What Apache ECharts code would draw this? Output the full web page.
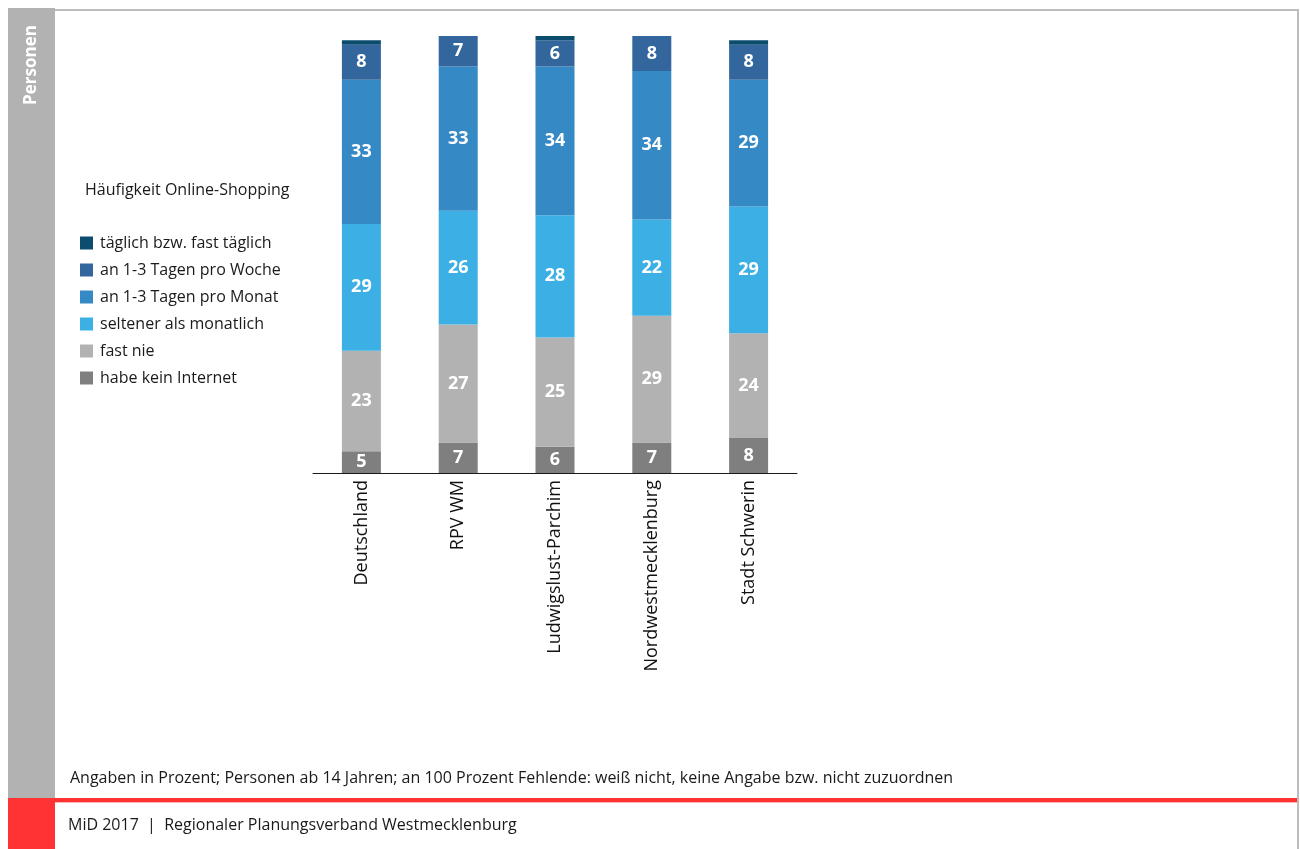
<!DOCTYPE html>
<html>
<head>
<meta charset="utf-8">
<title>Häufigkeit Online-Shopping</title>
<script src="https://cdn.jsdelivr.net/npm/echarts@6/dist/echarts.min.js"></script>
<style>
  html, body { margin: 0; padding: 0; background: #fff; }
  #chart { width: 1300px; height: 849px; }
</style>
</head>
<body>
<div id="chart"></div>
<script>
// Regions shown as columns
const categories = ['Deutschland', 'RPV WM', 'Ludwigslust-Parchim', 'Nordwestmecklenburg', 'Stadt Schwerin'];

// Shares in percent, stacked from the bottom up
const habeKeinInternet = [5, 7, 6, 7, 8];
const fastNie = [23, 27, 25, 29, 24];
const seltenerAlsMonatlich = [29, 26, 28, 22, 29];
const proMonat = [33, 33, 34, 34, 29];
const proWoche = [8, 7, 6, 8, 8];
const taeglich = [1, 1, 1, 1, 1];

const seriesNames = [
  'habe kein Internet',
  'fast nie',
  'seltener als monatlich',
  'an 1-3 Tagen pro Monat',
  'an 1-3 Tagen pro Woche',
  'täglich bzw. fast täglich'
];
const seriesData = [habeKeinInternet, fastNie, seltenerAlsMonatlich, proMonat, proWoche, taeglich];
const seriesColors = ['#7f7f7f', '#b2b2b2', '#3cb0e4', '#3589c4', '#33669c', '#0b4c6f'];
const showLabel = [true, true, true, true, true, false];

const FONT = '"Open Sans", "Noto Sans", sans-serif';

const chart = echarts.init(document.getElementById('chart'), null, { renderer: 'canvas' });

const series = seriesNames.map((name, i) => ({
  name: name,
  type: 'bar',
  stack: 'total',
  barWidth: 39,
  clip: true,
  itemStyle: { color: seriesColors[i] },
  label: {
    show: showLabel[i],
    position: 'inside',
    color: '#ffffff',
    fontFamily: FONT,
    fontWeight: 'bold',
    fontSize: 18
  },
  emphasis: { disabled: true },
  data: seriesData[i]
}));

chart.setOption({
  animation: false,
  backgroundColor: '#ffffff',
  textStyle: { fontFamily: FONT },
  grid: { left: 313, right: 503, top: 36, bottom: 376, containLabel: false },
  xAxis: {
    type: 'category',
    data: categories,
    axisLine: { show: true, lineStyle: { color: '#1a1a1a', width: 1 } },
    axisTick: { show: false },
    axisLabel: { rotate: 90, color: '#111', fontSize: 18, margin: 7, fontFamily: FONT }
  },
  yAxis: {
    type: 'value',
    min: 0,
    max: 100,
    show: false,
    splitLine: { show: false }
  },
  legend: {
    orient: 'vertical',
    left: 75,
    top: 230,
    itemWidth: 13,
    itemHeight: 13,
    itemGap: 11,
    icon: 'rect',
    selectedMode: false,
    data: seriesNames.slice().reverse(),
    textStyle: { color: '#1a1a1a', fontSize: 16, lineHeight: 16, fontFamily: FONT, padding: [0, 0, 0, 2] }
  },
  series: series,
  graphic: [
    // page frame
    { type: 'rect', shape: { x: 8, y: 8, width: 47, height: 790 }, style: { fill: '#b2b2b2' }, silent: true },
    { type: 'rect', shape: { x: 55, y: 9, width: 1243, height: 2 }, style: { fill: '#bdbdbd' }, silent: true },
    { type: 'rect', shape: { x: 1297, y: 9, width: 2, height: 840 }, style: { fill: '#bdbdbd' }, silent: true },
    { type: 'rect', shape: { x: 8, y: 798, width: 47, height: 51 }, style: { fill: '#ff3333' }, silent: true },
    { type: 'rect', shape: { x: 55, y: 798, width: 1242, height: 4 }, style: { fill: '#ff3333' }, silent: true },
    { type: 'rect', shape: { x: 55, y: 802, width: 1242, height: 1 }, style: { fill: '#ffb3b3' }, silent: true },
    {
      type: 'text', x: 31, y: 65, rotation: Math.PI / 2, silent: true,
      style: { text: 'Personen', fill: '#ffffff', font: 'bold 17px ' + FONT, textAlign: 'center', textVerticalAlign: 'middle' }
    },
    {
      type: 'text', x: 85, y: 190, silent: true,
      style: { text: 'Häufigkeit Online-Shopping', fill: '#1a1a1a', font: '16px ' + FONT, textVerticalAlign: 'middle' }
    },
    {
      type: 'text', x: 70, y: 778, silent: true,
      style: { text: 'Angaben in Prozent; Personen ab 14 Jahren; an 100 Prozent Fehlende: weiß nicht, keine Angabe bzw. nicht zuzuordnen', fill: '#1a1a1a', font: '16px ' + FONT, textVerticalAlign: 'middle' }
    },
    {
      type: 'text', x: 68, y: 825, silent: true,
      style: { text: 'MiD 2017  |  Regionaler Planungsverband Westmecklenburg', fill: '#1a1a1a', font: '16px ' + FONT, textVerticalAlign: 'middle' }
    }
  ]
});
</script>
</body>
</html>
